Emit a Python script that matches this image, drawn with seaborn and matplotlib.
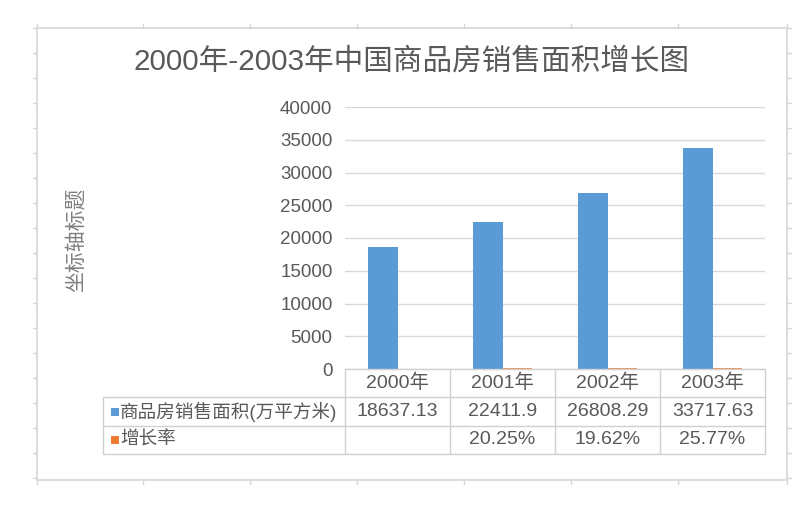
import matplotlib
matplotlib.use("Agg")
import matplotlib.pyplot as plt
import seaborn as sns
import pandas as pd
from matplotlib.lines import Line2D
from matplotlib.patches import Rectangle

# ---- data ----
years = ["2000年", "2001年", "2002年", "2003年"]
area_label = "商品房销售面积(万平方米)"
growth_label = "增长率"
area = [18637.13, 22411.9, 26808.29, 33717.63]
growth_pct = [None, 20.25, 19.62, 25.77]
title = "2000年-2003年中国商品房销售面积增长图"
ylabel = "坐标轴标题"
yticks = [0, 5000, 10000, 15000, 20000, 25000, 30000, 35000, 40000]

BLUE = "#5B9BD5"
ORANGE = "#ED7D31"
TXT = "#595959"
GRID = "#D9D9D9"
FAM = ["Liberation Sans", "Noto Sans CJK SC", "DejaVu Sans"]

sns.set_theme(style="white")
plt.rcParams["font.family"] = FAM

W, H = 800, 513
fig = plt.figure(figsize=(W / 100, H / 100), dpi=100)


def fx(x):
    return x / W


def fy(y):
    return 1 - y / H


# plot area (pixels): x 345..765, y 107..369
ax = fig.add_axes([fx(345), fy(369), (765 - 345) / W, (369 - 107) / H])

rows = []
for i, yr in enumerate(years):
    rows.append({"year": yr, "series": area_label, "value": area[i]})
    g = growth_pct[i]
    rows.append({"year": yr, "series": growth_label,
                 "value": (g / 100.0) if g is not None else float("nan")})
df = pd.DataFrame(rows)

sns.barplot(data=df, x="year", y="value", hue="series", order=years,
            hue_order=[area_label, growth_label],
            palette=[BLUE, ORANGE], width=0.5714, saturation=1,
            legend=False, ax=ax, linewidth=0)

# make tiny orange bars visible as thin lines at the baseline
for p in ax.patches:
    fc = p.get_facecolor()
    if fc[0] > 0.8 and fc[2] < 0.4:
        p.set_edgecolor(ORANGE)
        p.set_linewidth(1.2)

ax.set_xlim(-0.5, len(years) - 0.5)
ax.set_ylim(0, 40000)
ax.set_yticks(yticks)
ax.set_yticklabels([str(v) for v in yticks])
ax.tick_params(axis="y", length=0, pad=9, labelsize=13.5, labelcolor=TXT)
ax.tick_params(axis="x", length=0, labelbottom=False)
ax.set_xlabel("")
ax.set_ylabel("")
for s in ax.spines.values():
    s.set_visible(False)
ax.yaxis.grid(True, color=GRID, linewidth=1)
ax.set_axisbelow(True)

# title and axis title
fig.text(fx(412), fy(62), title, ha="center", va="center",
         fontsize=21.3, color=TXT, family=FAM)
fig.text(fx(76), fy(240), ylabel, ha="center", va="center", rotation=90,
         fontsize=15, color="#7F7F7F", family=FAM)

# ---- data table ----
LINE = "#D0D0D0"
TFS = 14
cols = [345, 450, 555, 660, 765]
ytop, yr1, yr2, ybot = 369, 397, 426, 454
left = 103


def hline(x0, x1, y):
    fig.add_artist(Line2D([fx(x0), fx(x1)], [fy(y), fy(y)], color=LINE, lw=1))


def vline(x, y0, y1):
    fig.add_artist(Line2D([fx(x), fx(x)], [fy(y0), fy(y1)], color=LINE, lw=1))


hline(cols[0], cols[-1], ytop)
hline(left, cols[-1], yr1)
hline(left, cols[-1], yr2)
hline(left, cols[-1], ybot)
vline(left, yr1, ybot)
for c in cols:
    vline(c, ytop, ybot)

for i, yr in enumerate(years):
    cx = (cols[i] + cols[i + 1]) / 2
    fig.text(fx(cx), fy((ytop + yr1) / 2), yr, ha="center", va="center",
             fontsize=TFS, color=TXT, family=FAM)
    fig.text(fx(cx), fy((yr1 + yr2) / 2), str(area[i]), ha="center",
             va="center", fontsize=TFS, color=TXT, family=FAM)
    if growth_pct[i] is not None:
        fig.text(fx(cx), fy((yr2 + ybot) / 2), f"{growth_pct[i]:.2f}%",
                 ha="center", va="center", fontsize=TFS, color=TXT,
                 family=FAM)

# row labels with legend keys
for (lab, col, y0, y1) in [(area_label, BLUE, yr1, yr2),
                           (growth_label, ORANGE, yr2, ybot)]:
    cy = (y0 + y1) / 2
    fig.add_artist(Rectangle((fx(111), fy(cy + 4)), 8 / W, 8 / H,
                             facecolor=col, edgecolor="none",
                             transform=fig.transFigure))
    fig.text(fx(120), fy(cy), lab, ha="left", va="center",
             fontsize=13.4, color=TXT, family=FAM)

# ---- chart frame with small ticks ----
FR = "#D6D6D6"
fl, ft, frr, fb = 37, 28, 787, 480
fig.add_artist(Rectangle((fx(fl), fy(fb)), (frr - fl) / W, (fb - ft) / H,
                         facecolor="none", edgecolor=FR, lw=1.2,
                         transform=fig.transFigure))
xt = [37, 143, 250, 357, 464, 571, 678, 787]
for x in xt:
    fig.add_artist(Line2D([fx(x), fx(x)], [fy(ft), fy(ft - 4)], color=FR, lw=1))
    fig.add_artist(Line2D([fx(x), fx(x)], [fy(fb), fy(fb + 4)], color=FR, lw=1))
y = ft
while y <= fb:
    fig.add_artist(Line2D([fx(fl), fx(fl - 4)], [fy(y), fy(y)], color=FR, lw=1))
    fig.add_artist(Line2D([fx(frr), fx(frr + 4)], [fy(y), fy(y)], color=FR, lw=1))
    y += 25

fig.savefig("out.png", dpi=100)
